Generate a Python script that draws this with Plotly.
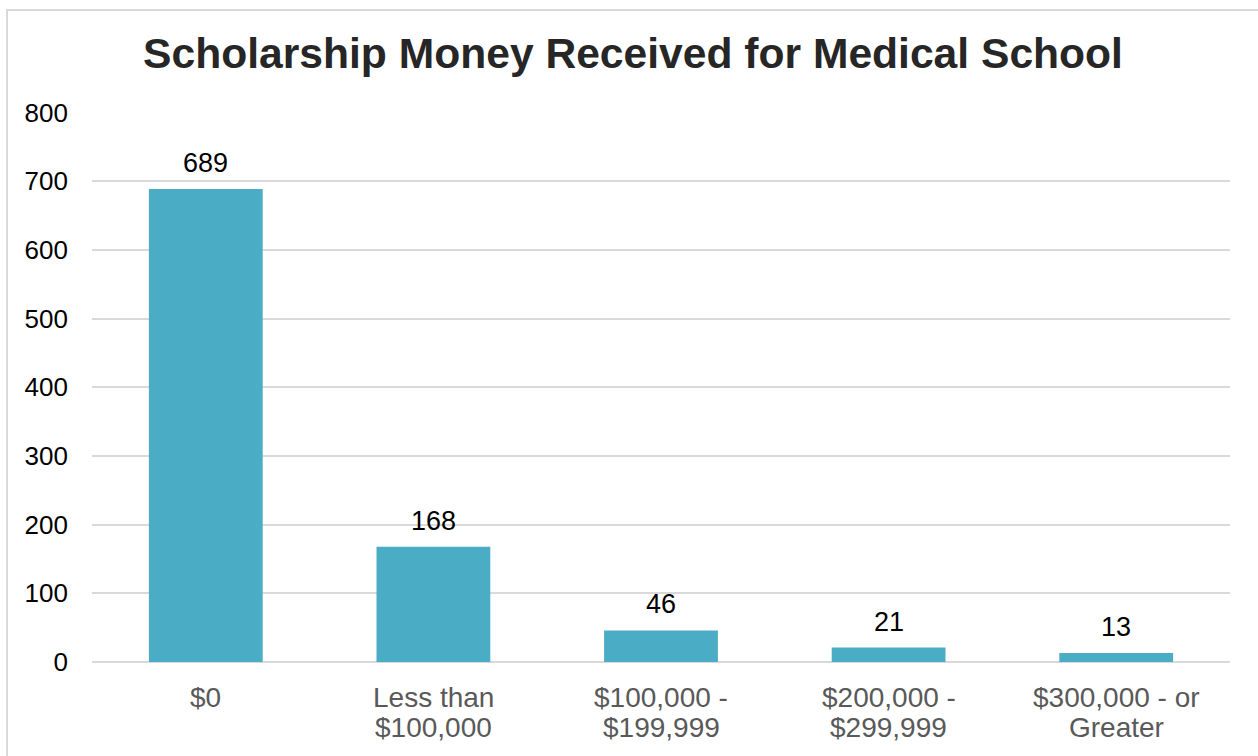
import plotly.graph_objects as go

# Scholarship amount brackets and number of respondents in each
categories = ["$0", "Less than\n$100,000", "$100,000 -\n$199,999",
              "$200,000 -\n$299,999", "$300,000 - or\nGreater"]
counts = [689, 168, 46, 21, 13]
y_ticks = [0, 100, 200, 300, 400, 500, 600, 700, 800]

FONT = "Liberation Sans, Arial, sans-serif"
BAR_COLOR = "#4BACC6"

fig = go.Figure(
    go.Bar(
        x=categories,
        y=counts,
        marker=dict(color=BAR_COLOR, line=dict(width=0)),
        width=0.5,
        hoverinfo="x+y",
    )
)

W, H = 1258, 756
L, R, T, B = 92, 28, 112, 94

# Value labels above each bar
for cat, v in zip(categories, counts):
    fig.add_annotation(
        x=cat, y=v, xref="x", yref="y",
        text=str(v), showarrow=False,
        yanchor="bottom", yshift=9,
        font=dict(family=FONT, size=27, color="#000000"),
    )

# Category labels under the axis, one annotation per line
for cat in categories:
    for i, line in enumerate(cat.split("\n")):
        fig.add_annotation(
            x=cat, y=0, xref="x", yref="paper",
            text=line, showarrow=False,
            yanchor="middle", yshift=-35 - 30 * i,
            font=dict(family=FONT, size=28, color="#595959"),
        )

fig.update_layout(
    width=W,
    height=H,
    margin=dict(l=L, r=R, t=T, b=B),
    paper_bgcolor="white",
    plot_bgcolor="white",
    showlegend=False,
    title=dict(
        text="<b>Scholarship Money Received for Medical School</b>",
        x=633 / W,
        xanchor="center",
        y=1 - 53 / H,
        yanchor="middle",
        font=dict(family=FONT, size=42.6, color="#262626"),
    ),
    xaxis=dict(
        showgrid=False,
        showline=False,
        zeroline=False,
        ticks="",
        showticklabels=False,
    ),
    yaxis=dict(
        range=[0, 801],
        tickvals=y_ticks,
        showgrid=True,
        gridcolor="#D9D9D9",
        gridwidth=2,
        zeroline=True,
        zerolinecolor="#D9D9D9",
        zerolinewidth=2,
        showline=False,
        ticks="",
        ticklabelstandoff=23,
        tickfont=dict(family=FONT, size=26, color="#000000"),
    ),
    bargap=0.5,
)

# Light frame around the chart area
pw, ph = W - L - R, H - T - B
fig.add_shape(
    type="rect",
    xref="paper", yref="paper",
    x0=(7 - L) / pw, x1=(W + 10 - L) / pw,
    y0=(H - B - (H + 10)) / ph, y1=(H - B - 10) / ph,
    line=dict(color="#D9D9D9", width=2),
    fillcolor="rgba(0,0,0,0)",
    layer="below",
)

fig.write_html("out.html")
